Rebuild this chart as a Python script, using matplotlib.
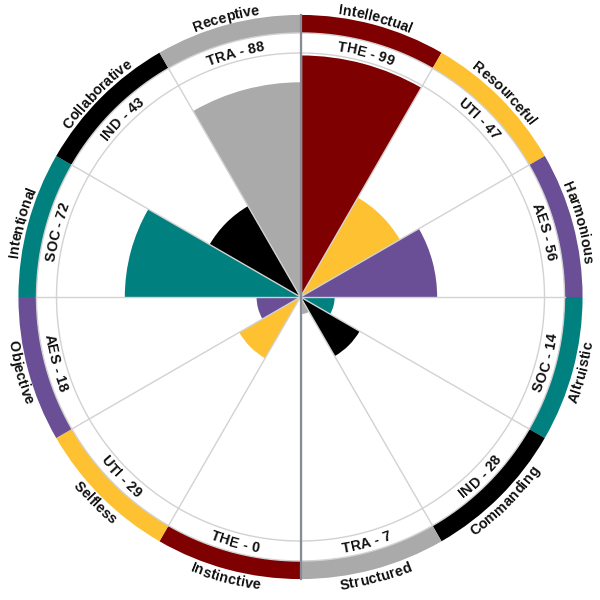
import matplotlib

matplotlib.use("Agg")

import matplotlib.pyplot as plt
import numpy as np
from matplotlib.font_manager import FontProperties
from matplotlib.textpath import TextToPath


traits = ["Intellectual", "Resourceful", "Harmonious", "Altruistic", "Commanding", "Structured",
          "Instinctive", "Selfless", "Objective", "Intentional", "Collaborative", "Receptive"]
codes = ["THE", "UTI", "AES", "SOC", "IND", "TRA", "THE", "UTI", "AES", "SOC", "IND", "TRA"]
scores = [99, 47, 56, 14, 28, 7, 0, 29, 18, 72, 43, 88]
code_colors = {
    "THE": "#7f0000",
    "UTI": "#fdc131",
    "AES": "#6a4f96",
    "SOC": "#00807e",
    "IND": "#000000",
    "TRA": "#aaaaaa",
}

DPI = 100
PX = 2.44            # pixels per score unit
RMAX = 121
GRID_R = 100
RING_IN = 108.2
RING_OUT = 115.6
INNER_LABEL_R = 104.0
OUTER_LABEL_R = 119.0
FONT = "Liberation Sans"
FSIZE = 10.4

t2p = TextToPath()


def text_width(s, fp):
    if not s:
        return 0.0
    return t2p.get_text_width_height_descent(s, fp, ismath=False)[0] * DPI / 72


def arc_text(ax, s, theta_deg, r, flip):
    fp = FontProperties(family=FONT, size=FSIZE, weight="bold")
    total = text_width(s, fp)
    r_px = r * PX
    cap = 0.716 * FSIZE * DPI / 72 / PX
    for i, ch in enumerate(s):
        if ch == " ":
            continue
        mid = (text_width(s[:i], fp) + text_width(s[:i + 1], fp)) / 2 - total / 2
        dtheta = np.degrees(mid / r_px)
        if flip:
            th = theta_deg - dtheta
            rb = r + cap / 2
            rot = 180 - th
        else:
            th = theta_deg + dtheta
            rb = r - cap / 2
            rot = -th
        ax.text(np.radians(th), rb, ch, rotation=rot, rotation_mode="anchor",
                ha="center", va="baseline", fontproperties=fp, color="#111111", zorder=6)


fig = plt.figure(figsize=(6, 6), dpi=DPI)
radius_frac = RMAX * PX / 600
cx, cy = 300.5 / 600, (600 - 297) / 600
ax = fig.add_axes([cx - radius_frac, cy - radius_frac, 2 * radius_frac, 2 * radius_frac], projection="polar")
ax.set_theta_zero_location("N")
ax.set_theta_direction(-1)
ax.set_ylim(0, RMAX)
ax.axis("off")

n = len(traits)
width = 2 * np.pi / n
centers = np.arange(n) * width + width / 2
colors = [code_colors[c] for c in codes]

ax.bar(centers, scores, width=width, bottom=0, color=colors, linewidth=0, zorder=2)
ax.bar(centers, RING_OUT - RING_IN, width=width, bottom=RING_IN, color=colors, linewidth=0, zorder=2)

circ = np.linspace(0, 2 * np.pi, 720)
for rr in [GRID_R, RING_IN]:
    ax.plot(circ, np.full_like(circ, rr), color="#d2d2d2", lw=1.0, zorder=3)
for k in range(n):
    a = k * width
    ax.plot([a, a], [0, RING_IN], color="#d2d2d2", lw=1.0, zorder=3)
for a in [0, np.pi]:
    ax.plot([a, a], [0, RING_OUT], color="#868c96", lw=1.6, zorder=4)

for i in range(n):
    deg = np.degrees(centers[i])
    flip = 90 < deg < 270
    arc_text(ax, f"{codes[i]} - {scores[i]}", deg, INNER_LABEL_R, flip)
    arc_text(ax, traits[i], deg, OUTER_LABEL_R, flip)

fig.savefig("out.png", dpi=DPI)
plt.close(fig)
